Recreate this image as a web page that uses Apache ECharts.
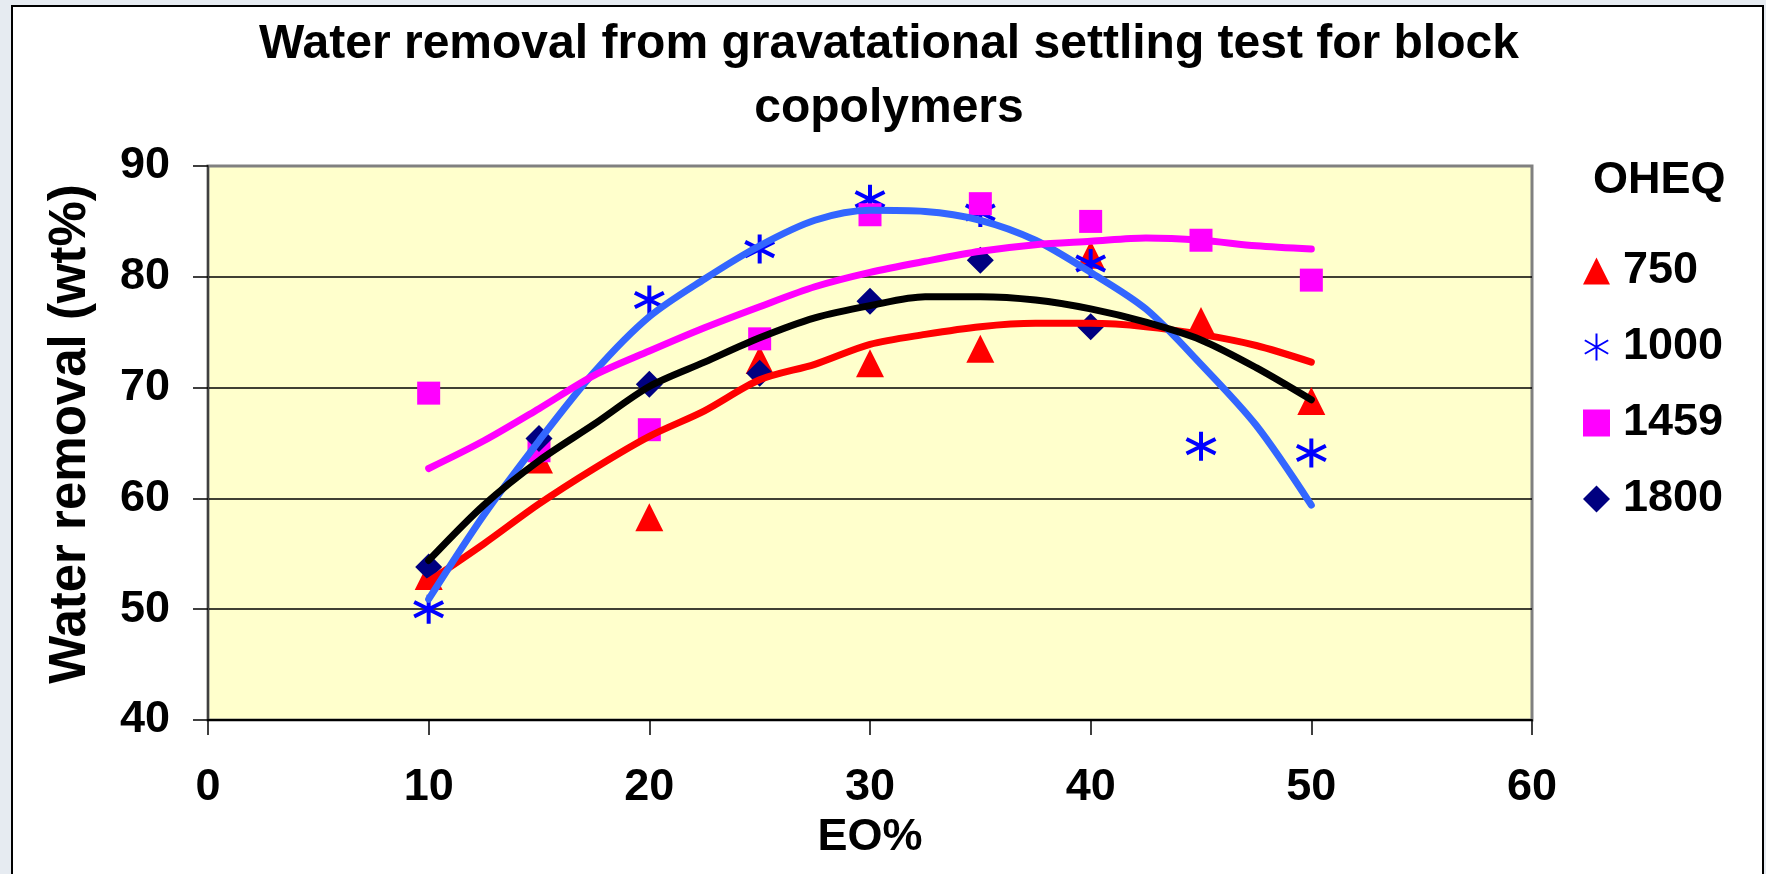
<!DOCTYPE html>
<html>
<head>
<meta charset="utf-8">
<script src="https://cdn.jsdelivr.net/npm/echarts@6/dist/echarts.min.js"></script>
<style>
  html, body { margin: 0; padding: 0; width: 1766px; height: 874px; overflow: hidden; background: #e6ebf1; }
  #frame { position: absolute; left: 11px; top: 5px; width: 1749px; height: 900px; background: #ffffff; border: 2px solid #000; }
  #chart { position: absolute; left: 0; top: 0; width: 1766px; height: 874px; }
</style>
</head>
<body>
<div id="frame"></div>
<div id="chart"></div>
<script>
// ---- Data ----
const eo = [10, 15, 20, 25, 30, 35, 40, 45, 50];
const oheq750  = [53.0, 63.5, 58.3, 72.5, 72.2, 73.5, 82.0, 76.0, 68.8];
const oheq1000 = [50.0, null, 77.9, 82.5, 87.0, 85.8, 81.2, 64.7, 64.1];
const oheq1459 = [69.5, 64.3, 66.2, 74.4, 85.6, 86.6, 85.0, 83.3, 79.7];
const oheq1800 = [53.8, 65.4, 70.3, 71.3, 77.8, 81.5, 75.5, null, null];

// trend lines
const trendX    = [10, 12.5, 15, 17.5, 20, 22.5, 25, 27.5, 30, 32.5, 35, 37.5, 40, 42.5, 45, 47.5, 50];
const trend750  = [52.5, 55.9, 59.5, 62.7, 65.6, 67.9, 70.7, 72.1, 73.9, 74.8, 75.5, 75.8, 75.8, 75.5, 74.8, 73.8, 72.3];
const trend1000 = [50.9, 58.5, 65.2, 71.4, 76.4, 79.8, 82.8, 85.1, 86.0, 85.9, 85.1, 83.3, 80.4, 77.1, 72.1, 66.6, 59.4];
const trend1459 = [62.7, 65.2, 68.1, 71.1, 73.3, 75.4, 77.3, 79.1, 80.4, 81.4, 82.3, 82.9, 83.2, 83.5, 83.3, 82.8, 82.5];
const trend1800 = [54.4, 59.4, 63.4, 66.7, 70.1, 72.3, 74.5, 76.3, 77.4, 78.2, 78.2, 77.9, 77.1, 75.9, 74.3, 71.8, 68.9];

const seriesNames = ['750', '1000', '1459', '1800'];
const xTicks = [0, 10, 20, 30, 40, 50, 60];
const yTicks = [40, 50, 60, 70, 80, 90];

const titleText = 'Water removal from gravatational settling test for block\ncopolymers';
const xName = 'EO%';
const yName = 'Water removal (wt%)';
const legendTitle = 'OHEQ';

function pts(xs, ys) {
  const out = [];
  for (let i = 0; i < xs.length; i++) if (ys[i] != null) out.push([xs[i], ys[i]]);
  return out;
}

const FONT = 'Liberation Sans, Arial, sans-serif';
const starPath = 'path://M0,-12 L0,12 M-10.4,-6 L10.4,6 M-10.4,6 L10.4,-6';

const chart = echarts.init(document.getElementById('chart'), null, { renderer: 'canvas' });
chart.setOption({
  backgroundColor: 'transparent',
  animation: false,
  title: {
    text: titleText,
    left: 884, top: 8,
    textAlign: 'center',
    textStyle: { fontFamily: FONT, fontWeight: 'bold', fontSize: 48, lineHeight: 64, color: '#000' }
  },
  graphic: [{
    type: 'text', left: 1593, top: 158,
    style: { text: legendTitle, font: 'bold 45px ' + FONT, fill: '#000' }
  }],
  legend: {
    data: seriesNames,
    orient: 'vertical',
    left: 1578, top: 241,
    itemWidth: 27, itemHeight: 27, itemGap: 26,
    textStyle: { fontFamily: FONT, fontWeight: 'bold', fontSize: 45, lineHeight: 50, color: '#000', padding: [0, 0, 0, 8] }
  },
  grid: {
    left: 208, right: 234, top: 166, bottom: 154,
    show: true, backgroundColor: '#ffffcc', borderColor: '#808080', borderWidth: 3
  },
  xAxis: {
    type: 'value', min: xTicks[0], max: xTicks[xTicks.length - 1], interval: 10,
    name: xName, nameLocation: 'middle', nameGap: 92,
    nameTextStyle: { fontFamily: FONT, fontWeight: 'bold', fontSize: 45, color: '#000' },
    axisLine: { show: true, onZero: false, lineStyle: { color: '#000', width: 2 } },
    axisTick: { show: true, length: 15, lineStyle: { color: '#000', width: 1.5 } },
    axisLabel: { margin: 45, fontFamily: FONT, fontWeight: 'bold', fontSize: 45, color: '#000' },
    splitLine: { show: false }
  },
  yAxis: {
    type: 'value', min: yTicks[0], max: yTicks[yTicks.length - 1], interval: 10,
    name: yName, nameLocation: 'middle', nameGap: 112,
    nameTextStyle: { fontFamily: FONT, fontWeight: 'bold', fontSize: 51, color: '#000', padding: [0, 0, 0, 18] },
    axisLine: { show: true, onZero: false, lineStyle: { color: '#404040', width: 2 } },
    axisTick: { show: true, length: 15, lineStyle: { color: '#000', width: 1.5 } },
    axisLabel: { margin: 38, fontFamily: FONT, fontWeight: 'bold', fontSize: 45, color: '#000' },
    splitLine: { show: true, lineStyle: { color: ['#000', '#000', '#000', '#000', '#000', '#808080'], width: 1.5 } }
  },
  series: [
    { name: '750', type: 'scatter', data: pts(eo, oheq750), symbol: 'triangle', symbolSize: 28,
      itemStyle: { color: '#ff0000', opacity: 1 }, z: 3 },
    { name: '1000', type: 'scatter', data: pts(eo, oheq1000), symbol: starPath, symbolSize: 29,
      itemStyle: { color: 'rgba(0,0,0,0)', borderColor: '#0000ff', borderWidth: 4, opacity: 1 }, z: 3 },
    { name: '1459', type: 'scatter', data: pts(eo, oheq1459), symbol: 'rect', symbolSize: 23,
      itemStyle: { color: '#ff00ff', opacity: 1 }, z: 3 },
    { name: '1800', type: 'scatter', data: pts(eo, oheq1800), symbol: 'diamond', symbolSize: 27,
      itemStyle: { color: '#000080', opacity: 1 }, z: 3 },
    { name: 't750', type: 'line', data: pts(trendX, trend750), smooth: 0.3, showSymbol: false, symbol: 'none',
      lineStyle: { color: '#ff0000', width: 7, cap: 'round' }, z: 4 },
    { name: 't1000', type: 'line', data: pts(trendX, trend1000), smooth: 0.3, showSymbol: false, symbol: 'none',
      lineStyle: { color: '#3366ff', width: 7, cap: 'round' }, z: 4 },
    { name: 't1459', type: 'line', data: pts(trendX, trend1459), smooth: 0.3, showSymbol: false, symbol: 'none',
      lineStyle: { color: '#ff00ff', width: 7, cap: 'round' }, z: 4 },
    { name: 't1800', type: 'line', data: pts(trendX, trend1800), smooth: 0.3, showSymbol: false, symbol: 'none',
      lineStyle: { color: '#000000', width: 7, cap: 'round' }, z: 4 }
  ]
});
</script>
</body>
</html>
